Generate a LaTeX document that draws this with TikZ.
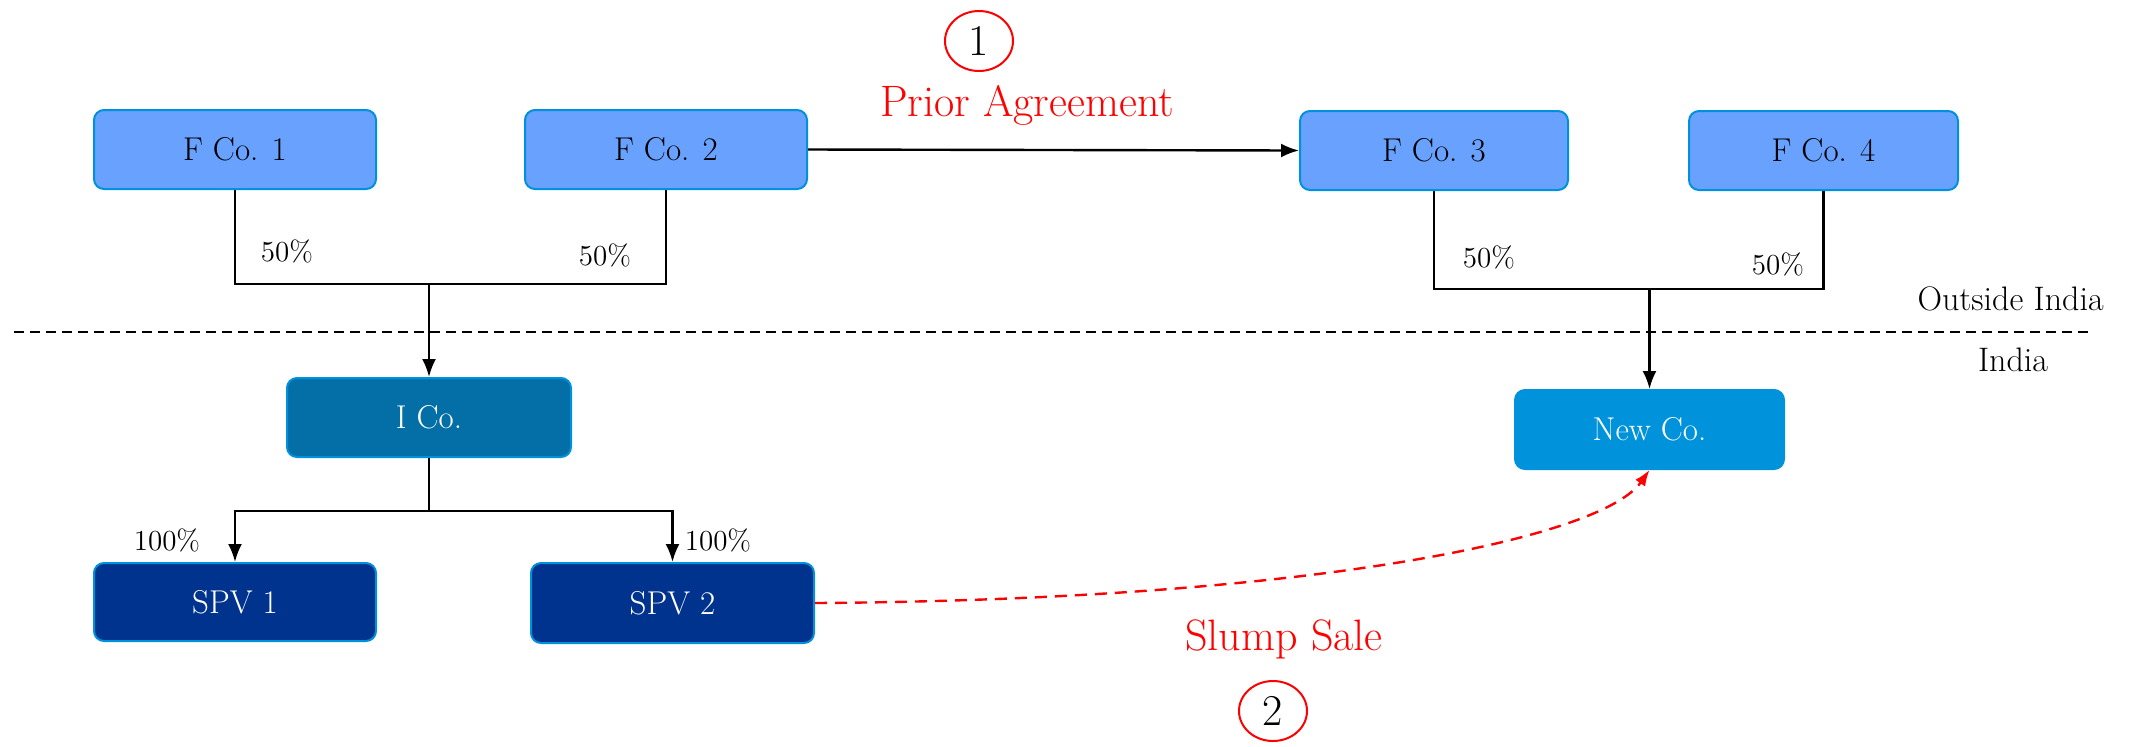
\documentclass[tikz,border=0pt]{standalone}
\usetikzlibrary{arrows.meta,shapes.geometric}
\definecolor{fcofill}{RGB}{105,161,255}
\definecolor{boxline}{RGB}{0,145,220}
\definecolor{icofill}{RGB}{3,111,166}
\definecolor{newcofill}{RGB}{0,146,218}
\definecolor{spvfill}{RGB}{0,51,141}
\tikzset{
  company/.style={rectangle, rounded corners=5pt, draw=boxline, line width=1pt,
    minimum width=140pt, minimum height=39.5pt, inner sep=0pt,
    font=\fontsize{16.5}{19}\selectfont},
  fco/.style={company, fill=fcofill, text=black},
  icobox/.style={company, fill=icofill, text=white},
  newcobox/.style={company, fill=newcofill, draw=newcofill, text=white},
  spvbox/.style={company, fill=spvfill, text=white},
  link/.style={line width=1.2pt, draw=black},
  arrowlink/.style={link, -{Latex[length=9pt,width=7pt]}},
  pct/.style={font=\fontsize{14.5}{17}\selectfont, inner sep=0pt},
  redlabel/.style={text=red, font=\fontsize{22}{26}\selectfont, inner sep=0pt},
  stepnum/.style={ellipse, draw=red, line width=1pt, minimum width=34pt,
    minimum height=30pt, inner sep=0pt, font=\fontsize{22}{26}\selectfont},
  region/.style={font=\fontsize{17}{20}\selectfont, inner sep=0pt},
}
\begin{document}
\begin{tikzpicture}[x=0.5pt,y=-0.5pt]
\useasboundingbox (0,0) rectangle (2131,746);
% companies
\node[fco, minimum width=141pt] (f1) at (235,149.5) {F Co. 1};
\node[fco, minimum width=141pt] (f2) at (666,149.5) {F Co. 2};
\node[fco, minimum width=134pt] (f3) at (1434,150.5) {F Co. 3};
\node[fco, minimum width=134.5pt] (f4) at (1823.5,150.5) {F Co. 4};
\node[icobox, minimum width=142pt] (ico) at (429,417.5) {I Co.};
\node[newcobox, minimum width=134.5pt] (newco) at (1649.5,429.5) {New Co.};
\node[spvbox, minimum width=141pt, minimum height=39pt] (spv1) at (235,602) {SPV 1};
\node[spvbox, minimum width=141.5pt, minimum height=40pt] (spv2) at (672.5,603) {SPV 2};
% junctions
\coordinate (j1) at (429,284);
\coordinate (j2) at (1649.5,289);
\coordinate (j3) at (429,511);
% ownership lines
\draw[link] (f1.south) |- (j1) -| (f2.south);
\draw[arrowlink] (j1) -- (ico.north);
\draw[link] (f3.south) |- (j2) -| (f4.south);
\draw[arrowlink] (j2) -- (newco.north);
\draw[link] (ico.south) -- (j3);
\draw[arrowlink] (j3) -| (spv1.north);
\draw[arrowlink] (j3) -| (spv2.north);
\draw[arrowlink] (f2.east) -- (f3.west);
% percentages
\node[pct] (p1) at (287,251) {50\%};
\node[pct] (p2) at (605,255) {50\%};
\node[pct] (p3) at (1489,257) {50\%};
\node[pct] (p4) at (1778,264) {50\%};
\node[pct] (p5) at (167,540) {100\%};
\node[pct] (p6) at (718,540) {100\%};
% border
\coordinate (bl) at (14,332);
\coordinate (br) at (2093,332);
\draw[line width=0.8pt, dash pattern=on 5pt off 3pt] (bl) -- (br);
\node[region, anchor=east] (outside) at (2104,299) {Outside India};
\node[region] (india) at (2013,360) {India};
% steps
\node[stepnum] (s1) at (979,41) {1};
\node[redlabel] (prior) at (1027,105) {Prior Agreement};
\node[redlabel] (slump) at (1284,639) {Slump Sale};
\node[stepnum] (s2) at (1273,711) {2};
\draw[red, line width=1.2pt, dash pattern=on 6pt off 4pt, -{Latex[length=8pt,width=6pt]}]
  (spv2.east) .. controls (1300,600) and (1600,540) .. (newco.south);
\end{tikzpicture}
\end{document}
